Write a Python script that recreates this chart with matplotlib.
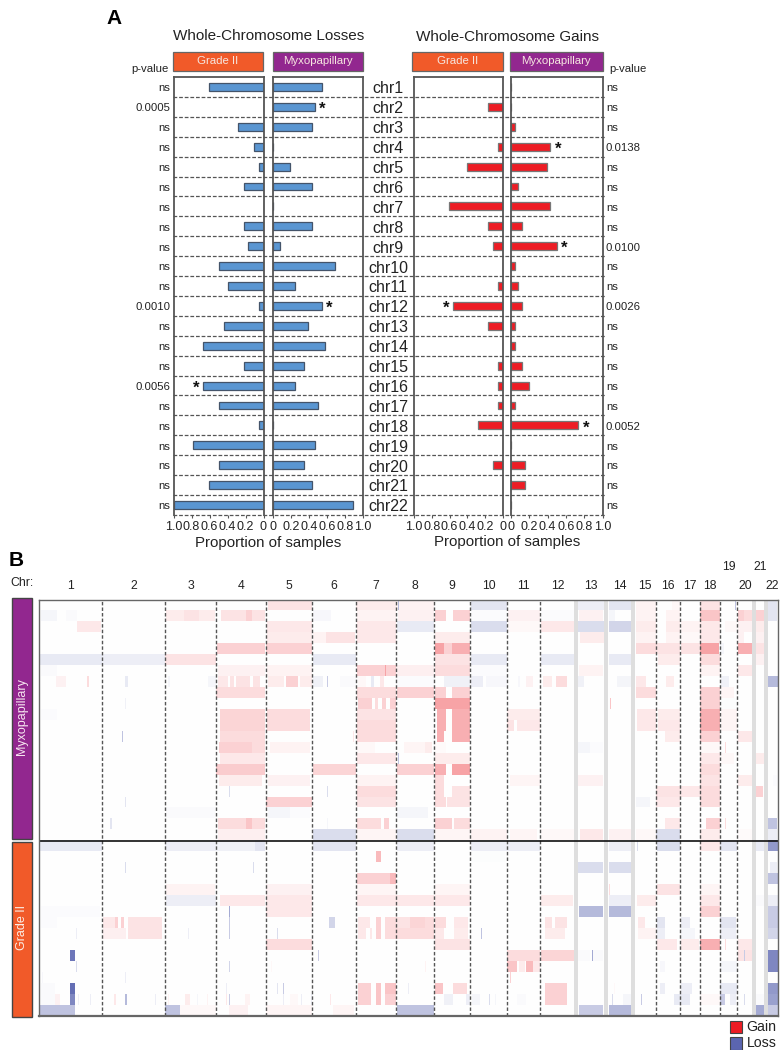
import numpy as np
import matplotlib
matplotlib.use("Agg")
import matplotlib.pyplot as plt
from matplotlib.colors import LinearSegmentedColormap
from matplotlib.patches import Rectangle

plt.rcParams["font.family"] = ["Liberation Sans", "DejaVu Sans"]

# Panel A data
chroms = ["chr%d" % i for i in range(1, 23)]
loss_grade = [.61, 0, .28, .11, .055, .22, 0, .22, .17, .50, .39, .055, .44, .67, .22, .67, .50, .055, .78, .50, .61, 1.0]
loss_myxo = [.54, .46, .43, 0, .19, .43, 0, .43, .08, .69, .24, .54, .39, .58, .34, .24, .50, 0, .46, .34, .43, .885]
gain_grade = [0, .165, 0, .06, .40, 0, .61, .165, .11, 0, .06, .56, .165, 0, .06, .06, .06, .28, 0, .11, 0, 0]
gain_myxo = [0, 0, .045, .43, .39, .08, .43, .12, .505, .045, .08, .12, .045, .045, .12, .195, .045, .735, 0, .155, .155, 0]
pval_loss = ["ns", "0.0005", "ns", "ns", "ns", "ns", "ns", "ns", "ns", "ns", "ns", "0.0010", "ns", "ns", "ns", "0.0056", "ns", "ns", "ns", "ns", "ns", "ns"]
pval_gain = ["ns", "ns", "ns", "0.0138", "ns", "ns", "ns", "ns", "0.0100", "ns", "ns", "0.0026", "ns", "ns", "ns", "ns", "ns", "0.0052", "ns", "ns", "ns", "ns"]
stars_loss_grade = ["chr16"]
stars_loss_myxo = ["chr2", "chr12"]
stars_gain_grade = ["chr12"]
stars_gain_myxo = ["chr4", "chr9", "chr18"]

# Panel B data: chromosome edges on the genome axis, and bands shown in grey
chr_edges = [39, 102, 165, 216, 266, 312, 356, 396, 434, 470, 507, 540, 576, 606, 633, 656, 680, 700, 720, 737, 754, 766, 778]
grey_edges = [576, 606, 633, 754, 766]

# segments per sample: (start, end, log ratio), positive = gain, negative = loss
myxo_rows = [
    [(268, 312, .12), (356, 396, .08), (396, 434, .05), (398, 399, -.4), (471, 507, -.15), (578, 604, -.1), (609, 631, -.15), (636, 656, .05), (672, 680, .03), (700, 720, .12), (735, 736, -.35), (768, 777, -.15)],
    [(41, 57, -.05), (66, 77, -.03), (166, 215, .08), (184, 199, .12), (221, 265, .12), (246, 252, .2), (313, 331, -.04), (357, 396, .05), (398, 434, .06), (435, 446, .2), (453, 470, .2), (471, 507, -.02), (508, 540, .06), (541, 575, -.02), (579, 603, .06), (609, 615, -.05), (636, 656, .05), (666, 680, .05), (700, 720, .25), (738, 744, .2), (744, 754, .15), (755, 765, .2), (768, 777, -.15)],
    [(77, 101, .1), (267, 312, .1), (357, 396, .1), (397, 434, -.12), (471, 507, -.2), (508, 540, .03), (541, 575, .1), (578, 604, -.2), (609, 631, -.25), (636, 656, .08), (666, 680, .08), (681, 700, .05), (700, 720, .1), (725, 737, .03), (738, 754, .06), (756, 766, .08)],
    [(267, 312, .08), (313, 326, .05), (326, 355, .12), (357, 396, .1), (435, 470, .08), (580, 604, .08), (636, 656, .05), (666, 680, .05), (681, 700, .03), (700, 720, .1), (738, 744, .06), (756, 766, .06)],
    [(217, 265, .2), (266, 312, .2), (435, 444, .4), (444, 452, .2), (452, 470, .35), (636, 656, .15), (656, 680, .12), (681, 700, .12), (700, 719, .4), (720, 724, -.05), (738, 752, .35), (756, 766, .12)],
    [(39, 102, -.12), (102, 165, -.1), (165, 216, .12), (313, 356, -.12), (435, 470, .12), (471, 507, -.12), (541, 575, -.12), (609, 631, -.12), (658, 680, .08), (700, 720, .15), (756, 766, .06)],
    [(41, 57, -.03), (218, 265, .06), (267, 312, .05), (357, 385, .2), (385, 386, .4), (386, 396, .2), (396, 434, .07), (435, 470, .15), (471, 507, -.02), (579, 603, .05), (700, 720, .05), (738, 752, .1)],
    [(56, 66, .06), (87, 89, .15), (125, 128, -.12), (168, 170, -.05), (208, 216, -.05), (218, 228, .1), (230, 234, .12), (236, 250, .12), (253, 260, .12), (268, 284, .08), (286, 298, .2), (300, 312, .08), (313, 323, -.08), (327, 328, -.3), (340, 356, -.03), (358, 366, .03), (371, 374, -.12), (380, 384, .1), (396, 434, -.02), (444, 470, -.08), (471, 483, -.1), (486, 507, -.04), (518, 520, -.04), (526, 533, .06), (543, 552, .08), (556, 567, .15), (578, 584, -.08), (617, 631, -.06), (636, 646, .1), (666, 674, .08), (721, 729, -.08), (754, 756, -.3), (768, 778, -.4)],
    [(216, 265, .15), (357, 396, .15), (397, 434, .2), (435, 446, .2), (452, 470, .2), (636, 656, .15), (700, 720, .2), (721, 734, .04)],
    [(125, 126, -.08), (358, 372, .2), (375, 378, .15), (382, 386, .2), (390, 396, .2), (435, 470, .4), (610, 611, .25), (700, 720, .2), (721, 737, -.01)],
    [(41, 57, -.02), (220, 265, .18), (267, 310, .15), (357, 396, .12), (437, 446, .35), (452, 470, .35), (507, 540, .08), (637, 656, .1), (658, 680, .08), (700, 720, .35), (721, 737, .04)],
    [(220, 265, .18), (267, 310, .15), (357, 396, .15), (437, 446, .35), (452, 470, .35), (507, 514, .12), (517, 540, .1), (637, 656, .1), (658, 680, .1), (700, 720, .35), (721, 737, .04)],
    [(122, 123, -.35), (220, 265, .15), (353, 354, .1), (357, 396, .15), (437, 444, .35), (452, 470, .35), (665, 680, .08), (700, 720, .2), (738, 752, .1)],
    [(219, 252, .2), (252, 265, .15), (270, 310, .05), (357, 375, .03), (404, 425, .04), (425, 432, .08), (435, 446, .02), (578, 590, -.05), (590, 603, -.02), (700, 720, .03), (725, 726, .15)],
    [(220, 265, .1), (357, 396, .1), (398, 399, -.35), (435, 470, .08), (700, 720, .1), (721, 734, .03), (756, 766, .08)],
    [(216, 265, .22), (313, 356, .18), (397, 434, .2), (435, 446, .35), (452, 470, .4), (700, 720, .15)],
    [(219, 262, .08), (268, 310, .06), (357, 396, .05), (435, 444, .15), (510, 540, .04), (578, 603, .06), (700, 720, .12), (738, 752, .08), (773, 777, -.02)],
    [(229, 230, -.2), (327, 328, -.2), (357, 396, .15), (435, 444, .15), (452, 470, .12), (656, 680, .12), (680, 700, .1), (700, 720, .15), (756, 763, .2)],
    [(125, 126, -.15), (266, 312, .2), (357, 396, .12), (435, 446, .15), (447, 470, .12), (636, 650, -.05), (656, 680, .1), (700, 720, .15), (755, 756, -.3)],
    [(166, 215, -.03), (268, 290, -.05), (290, 310, -.02), (397, 428, -.05)],
    [(110, 112, -.15), (218, 265, .15), (246, 252, .25), (327, 328, -.05), (357, 381, .15), (384, 389, .2), (435, 452, .2), (454, 470, .15), (665, 680, .1), (706, 720, .2), (725, 726, .15), (755, 756, -.3), (768, 777, -.35)],
    [(218, 265, .07), (313, 356, -.2), (357, 396, .04), (397, 434, -.2), (435, 470, .04), (471, 507, .05), (510, 537, .04), (541, 575, .03), (580, 603, .1), (609, 631, .06), (636, 656, .03), (656, 680, -.2), (700, 720, .08), (738, 754, .02), (768, 777, -.1)],
]
grade_rows = [
    [(39, 102, -.12), (165, 216, -.1), (216, 255, -.08), (255, 265, -.15), (313, 356, -.15), (397, 434, -.1), (471, 507, -.1), (507, 540, -.1), (609, 631, -.1), (637, 638, -.2), (657, 680, -.2), (700, 720, .1), (720, 737, -.15), (755, 766, -.12), (768, 778, -.6)],
    [(376, 381, .3), (472, 505, -.01)],
    [(125, 126, -.2), (253, 254, -.2), (578, 603, -.2), (609, 631, -.2), (770, 777, -.1)],
    [(357, 390, .2), (390, 396, .3), (768, 778, -.35)],
    [(166, 215, .05), (266, 312, .06), (357, 396, .04), (435, 470, .04), (609, 610, .15), (657, 680, .12), (700, 720, .04)],
    [(166, 216, -.1), (220, 265, .1), (266, 312, .1), (357, 396, .1), (396, 434, .1), (435, 470, .1), (541, 573, .08), (609, 631, -.1), (637, 656, .08), (700, 720, .1), (755, 766, -.03), (768, 778, -.1)],
    [(41, 100, -.02), (229, 230, -.5), (266, 312, .1), (579, 603, -.4), (609, 631, -.4), (700, 720, .2), (755, 756, -.2), (768, 778, -.3)],
    [(41, 57, -.02), (103, 115, .1), (115, 118, .2), (121, 124, .2), (128, 162, .12), (229, 230, -.3), (329, 335, -.25), (358, 370, .1), (376, 381, .2), (385, 396, .15), (396, 410, .12), (410, 425, .18), (425, 434, .15), (435, 446, .15), (454, 468, .1), (545, 552, .12), (555, 567, .12), (638, 645, .1), (657, 665, -.15), (681, 690, -.1), (720, 736, -.15), (768, 778, -.3)],
    [(76, 77, -.1), (103, 126, .07), (128, 162, .12), (188, 189, -.1), (229, 230, -.3), (277, 278, -.2), (358, 366, .1), (370, 372, .1), (376, 381, .2), (385, 396, .15), (396, 434, .15), (435, 444, .1), (454, 468, .08), (481, 482, -.35), (545, 565, .08), (638, 656, .05), (657, 665, -.1), (681, 695, -.05), (720, 736, -.1), (768, 778, -.25)],
    [(266, 312, .15), (435, 470, .12), (657, 677, .1), (681, 699, .08), (700, 720, .35), (725, 726, .15), (738, 754, .1)],
    [(70, 75, -.8), (318, 319, -.3), (507, 540, .15), (541, 575, .18), (578, 590, -.03), (592, 593, -.5), (593, 603, -.03), (738, 754, .12), (744, 745, -.3), (755, 756, -.3), (768, 778, -.7)],
    [(76, 77, -.2), (229, 230, -.25), (271, 272, .03), (425, 426, .05), (507, 517, .25), (519, 525, .08), (526, 533, .3), (533, 540, .1), (660, 665, -.04), (720, 737, -.05), (768, 778, -.7)],
    [(42, 43, -.04), (125, 126, -.1), (510, 511, .2)],
    [(41, 55, -.03), (70, 75, -.85), (226, 227, -.1), (277, 278, -.15), (283, 284, -.3), (358, 371, .2), (376, 381, .25), (385, 396, .25), (408, 409, -.1), (435, 443, .25), (453, 467, .15), (545, 567, .2), (614, 615, .03), (660, 665, -.1), (681, 692, -.1), (720, 737, -.12), (768, 778, -.6)],
    [(41, 55, -.03), (55, 60, .06), (70, 75, -.7), (78, 79, -.1), (90, 91, -.1), (114, 116, .1), (125, 127, -.4), (155, 156, -.1), (168, 169, .05), (185, 190, .08), (197, 198, -.05), (207, 208, .05), (226, 227, .1), (229, 230, -.3), (245, 250, .05), (283, 284, -.1), (290, 298, .03), (301, 302, -.1), (311, 312, -.1), (330, 331, .1), (358, 371, .2), (376, 381, .25), (385, 396, .2), (444, 453, -.08), (466, 470, -.1), (472, 480, -.05), (489, 490, -.2), (495, 496, -.05), (517, 526, -.03), (545, 567, .2), (612, 613, -.2), (623, 631, -.05), (641, 642, -.3), (674, 690, -.12), (700, 720, .03), (720, 725, -.3), (730, 736, -.1), (744, 745, -.2), (755, 766, -.03), (768, 778, -.55)],
    [(39, 75, -.35), (165, 180, -.35), (180, 216, .03), (229, 248, .06), (266, 312, .04), (333, 354, .04), (397, 434, -.35), (579, 603, -.3), (609, 631, -.4), (755, 765, -.5), (768, 778, -.3)],
]


def px_axes(x0, y0, x1, y1):
    # axes placed from pixel corners of the 780x1050 figure
    return fig.add_axes([x0 / 780, 1 - y1 / 1050, (x1 - x0) / 780, (y1 - y0) / 1050])


fig = plt.figure(figsize=(7.8, 10.5), dpi=100, facecolor="white")

# overlay in pixel units for headers, labels and row separators
ov = fig.add_axes([0, 0, 1, 1], zorder=0)
ov.set_xlim(0, 780)
ov.set_ylim(1050, 0)
ov.axis("off")

TXT = "#222222"
EDGE = "#555555"
ORANGE = "#F15A29"
PURPLE = "#92278F"
TOP, ROW = 77, 19.9

for i in range(22):
    y = TOP + (i + 1) * ROW
    ov.plot([173, 606], [y, y], color="#555555", lw=0.9, ls=(0, (3, 1.5)))
    ov.text(388, TOP + (i + 0.6) * ROW, chroms[i], ha="center", va="center", fontsize=11.5, color=TXT)
    ov.text(170, TOP + (i + 0.57) * ROW, pval_loss[i], ha="right", va="center", fontsize=8.2, color=TXT)
    ov.text(606, TOP + (i + 0.57) * ROW, pval_gain[i], ha="left", va="center", fontsize=8.2, color=TXT)


def bar_panel(box, values, stars, inverted, color, edge):
    ax = px_axes(*box)
    ax.patch.set_alpha(0)
    ax.barh(range(22), values, height=0.4, color=color, edgecolor=edge, linewidth=0.9)
    ax.set_ylim(21.5, -0.5)
    ax.set_xlim((1, 0) if inverted else (0, 1))
    ax.set_yticks([])
    ax.set_xticks([0, .2, .4, .6, .8, 1.0])
    ax.set_xticklabels(["0", "0.2", "0.4", "0.6", "0.8", "1.0"], fontsize=9, color=TXT)
    ax.tick_params(axis="x", length=2.5, width=0.8, color=EDGE, pad=2)
    ax.spines["bottom"].set_visible(False)
    for s in ["top", "left", "right"]:
        ax.spines[s].set_color(EDGE)
        ax.spines[s].set_linewidth(1.3)
    for name in stars:
        i = chroms.index(name)
        ax.text(values[i] + 0.08, i + 0.12, "*", ha="center", va="center", fontsize=12, fontweight="bold", color="#111111")
    return ax


BLUE, BLUE_E = "#5A96D2", "#44546A"
RED, RED_E = "#ED1C24", "#777777"
bar_panel((173.5, TOP, 263.5, 515), loss_grade, stars_loss_grade, True, BLUE, BLUE_E)
bar_panel((273.3, TOP, 363, 515), loss_myxo, stars_loss_myxo, False, BLUE, BLUE_E)
bar_panel((414, TOP, 503, 515), gain_grade, stars_gain_grade, True, RED, RED_E)
bar_panel((511, TOP, 602.7, 515), gain_myxo, stars_gain_myxo, False, RED, RED_E)

for x0, x1, col, lab in [(172.7, 263, ORANGE, "Grade II"), (272.7, 363.3, PURPLE, "Myxopapillary"),
                         (412, 503, ORANGE, "Grade II"), (509.7, 602.7, PURPLE, "Myxopapillary")]:
    ov.add_patch(Rectangle((x0, 51.7), x1 - x0, 19.6, facecolor=col, edgecolor="#666666", lw=0.9))
    ov.text((x0 + x1) / 2, 60.5, lab, ha="center", va="center", fontsize=8.2, color="#f6e6e0")

ov.text(268.5, 36, "Whole-Chromosome Losses", ha="center", va="center", fontsize=11, color=TXT)
ov.text(508, 37, "Whole-Chromosome Gains", ha="center", va="center", fontsize=11, color=TXT)
ov.text(168.5, 69, "p-value", ha="right", va="center", fontsize=8.2, color=TXT)
ov.text(609, 69, "p-value", ha="left", va="center", fontsize=8.2, color=TXT)
ov.text(268, 543, "Proportion of samples", ha="center", va="center", fontsize=10.8, color=TXT)
ov.text(507, 542, "Proportion of samples", ha="center", va="center", fontsize=10.8, color=TXT)
ov.text(106, 18, "A", ha="left", va="center", fontsize=15, fontweight="bold", color="black")
ov.text(9, 561, "B", ha="left", va="center", fontsize=15, fontweight="bold", color="black")

# Panel B heatmap
all_rows = myxo_rows + grade_rows
heat = np.zeros((len(all_rows), chr_edges[-1] - chr_edges[0]))
for r, segs in enumerate(all_rows):
    for a, b, v in segs:
        heat[r, a - chr_edges[0]:b - chr_edges[0]] = v

cmap = LinearSegmentedColormap.from_list("gl", ["#4A55A8", "#FFFFFF", "#ED1C24"])
ax_h = px_axes(39, 599.5, 778, 1016)
ax_h.imshow(heat, cmap=cmap, vmin=-1, vmax=1, aspect="auto", interpolation="nearest",
            extent=(chr_edges[0], chr_edges[-1], len(all_rows), 0))
for e in chr_edges[1:-1]:
    if e in grey_edges:
        ax_h.axvspan(e - 2, e + 2, color="#DEDEDE", lw=0)
    else:
        ax_h.axvline(e, color="#555555", lw=1.0, ls=(0, (2.5, 1.5)))
ax_h.axhline(len(myxo_rows), color="#111111", lw=1.2)
ax_h.set_xticks([])
ax_h.set_yticks([])
for s in ax_h.spines.values():
    s.set_color("#666666")
    s.set_linewidth(1.0)
ax_h.spines["bottom"].set_linewidth(1.6)

for i in range(22):
    mid = (chr_edges[i] + chr_edges[i + 1]) / 2
    y = 567 if i + 1 in (19, 21) else 586
    ov.text(mid, y, str(i + 1), ha="center", va="center", fontsize=8.8, color=TXT)
ov.text(10, 583, "Chr:", ha="left", va="center", fontsize=8.8, color=TXT)

ov.add_patch(Rectangle((12.3, 597.7), 19.7, 241, facecolor=PURPLE, edgecolor="#444444", lw=1))
ov.add_patch(Rectangle((12.3, 842.3), 19.7, 175, facecolor=ORANGE, edgecolor="#444444", lw=1))
ov.text(22, 717, "Myxopapillary", rotation=90, ha="center", va="center", fontsize=9, color="#f6e6f0")
ov.text(22, 928, "Grade II", rotation=90, ha="center", va="center", fontsize=9, color="#fbeee6")

ov.add_patch(Rectangle((729.5, 1020.7), 12.5, 12.6, facecolor=RED, edgecolor="#444444", lw=0.8))
ov.add_patch(Rectangle((729.5, 1037), 12.5, 12.6, facecolor="#5B65B0", edgecolor="#444444", lw=0.8))
ov.text(746, 1027, "Gain", ha="left", va="center", fontsize=10.2, color=TXT)
ov.text(747, 1043, "Loss", ha="left", va="center", fontsize=10.2, color=TXT)

fig.savefig("out.png", dpi=100)
